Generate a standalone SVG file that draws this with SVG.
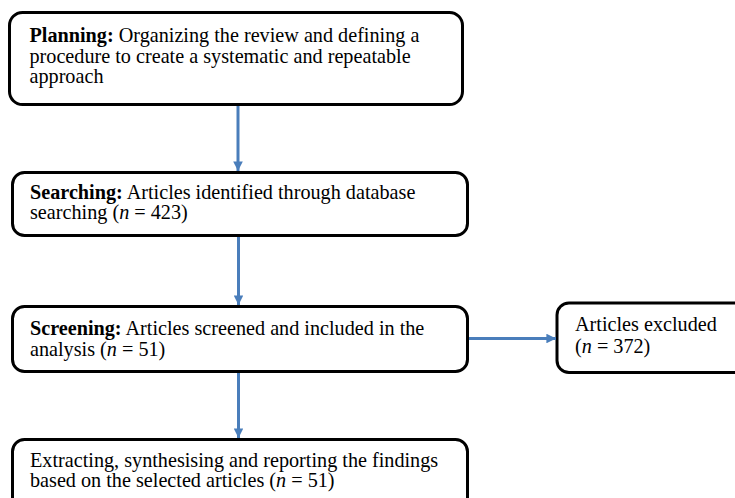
<svg xmlns="http://www.w3.org/2000/svg" width="735" height="498" viewBox="0 0 735 498">
<defs>
<style>
.box{fill:#fff;stroke:#000;stroke-width:3}
.t{font-family:"Liberation Serif","Times New Roman",serif;font-size:20.2px;fill:#000}
.b{font-weight:bold}
.i{font-style:italic}
.c{stroke:#4a7ebb;stroke-width:3;fill:none;marker-end:url(#ah)}
</style>
<marker id="ah" viewBox="0 0 10 10" refX="10" refY="5" markerWidth="3.2" markerHeight="3.2" orient="auto" markerUnits="strokeWidth">
<path d="M0,0 L10,5 L0,10 z" fill="#4a7ebb"/>
</marker>
</defs>
<rect width="735" height="498" fill="#fff"/>
<g id="planning">
<rect class="box" x="9.5" y="12.5" width="453" height="92" rx="13"/>
<text class="t" x="29.5" y="41.5"><tspan class="b">Planning:</tspan> Organizing the review and defining a</text>
<text class="t" x="29.5" y="62.5">procedure to create a systematic and repeatable</text>
<text class="t" x="29.5" y="83">approach</text>
</g>
<g id="searching">
<rect class="box" x="12.5" y="172.5" width="455" height="63" rx="12"/>
<text class="t" x="30" y="198.5"><tspan class="b">Searching:</tspan> Articles identified through database</text>
<text class="t" x="30" y="219">searching (<tspan class="i">n</tspan> = 423)</text>
</g>
<g id="screening">
<rect class="box" x="12.5" y="306.5" width="455" height="65" rx="12"/>
<text class="t" x="30" y="335"><tspan class="b">Screening:</tspan> Articles screened and included in the</text>
<text class="t" x="30" y="356">analysis (<tspan class="i">n</tspan> = 51)</text>
</g>
<g id="excluded">
<rect class="box" x="557" y="303" width="190" height="69.5" rx="12"/>
<text class="t" x="575" y="331">Articles excluded</text>
<text class="t" x="575" y="353">(<tspan class="i">n</tspan> = 372)</text>
</g>
<g id="extracting">
<rect class="box" x="12.5" y="439.5" width="455" height="70" rx="12"/>
<text class="t" x="30" y="467">Extracting, synthesising and reporting the findings</text>
<text class="t" x="30" y="487">based on the selected articles (<tspan class="i">n</tspan> = 51)</text>
</g>
<g id="connectors">
<line class="c" x1="238" y1="106" x2="238" y2="171"/>
<line class="c" x1="238.5" y1="237" x2="238.5" y2="305"/>
<line class="c" x1="238.5" y1="373" x2="238.5" y2="438"/>
<line class="c" x1="469" y1="338.5" x2="556" y2="338.5"/>
</g>
</svg>
